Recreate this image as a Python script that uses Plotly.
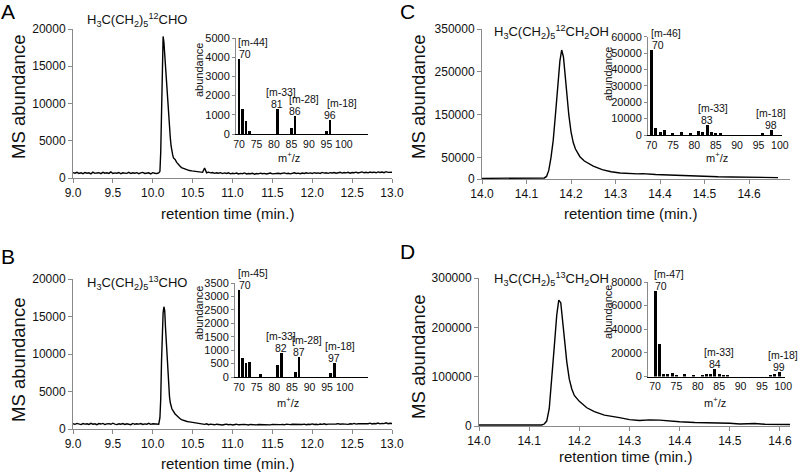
import numpy as np
import plotly.graph_objects as go

W, H = 800, 472
FONT = "Liberation Sans, Arial, Helvetica, sans-serif"

# ---------------- Panel A : H3C(CH2)5 12CHO chromatogram ----------------
A_base1 = [720, 640, 760, 610, 690, 580, 740, 650, 700, 560, 780,
           620, 680, 710, 590, 760, 640, 700, 620, 810, 600, 690,
           650, 740, 570, 700, 660, 620, 760, 600, 700, 640, 720,
           580, 690, 750, 610, 660, 700, 560, 720, 640, 600, 680]
A_peak_t = [10.09, 10.10, 10.11, 10.12, 10.13, 10.14, 10.15, 10.16, 10.17, 10.18,
            10.19, 10.20, 10.21, 10.22, 10.23, 10.24, 10.25, 10.26, 10.28, 10.30,
            10.32, 10.34, 10.36, 10.38, 10.40, 10.43, 10.46, 10.49, 10.52, 10.55, 10.58]
A_peak_v = [900, 3500, 9000, 15500, 19000, 18200, 16500, 14800, 13000, 11200,
            9500, 8200, 6800, 5400, 4300, 3500, 3100, 2700, 2500, 2100,
            1800, 1600, 1400, 1300, 1200, 1100, 1000, 950, 900, 850, 800]
A_base2 = [820, 760, 1350, 700, 780, 690, 740, 620, 700, 650,
           720, 590, 680, 610, 700, 560, 640, 590, 660, 540,
           620, 580, 680, 550, 610, 570, 640, 520, 600, 560,
           650, 580, 620, 540, 600, 660, 560, 620, 580, 640,
           570, 610, 680, 590, 640, 560, 620, 700, 600, 650,
           580, 660, 610, 700, 620, 680, 600, 720, 640, 690,
           610, 750, 660, 700, 630, 720, 680, 740, 650, 710,
           770, 660, 730, 690, 760, 650, 740, 700, 780, 680,
           750, 820, 700, 760, 690, 800, 730, 780, 700, 820,
           750, 800, 720, 850, 760, 810, 780]

# ---------------- Panel B : H3C(CH2)5 13CHO chromatogram ----------------
B_base1 = [700, 620, 740, 680, 590, 720, 650, 700, 610, 760, 640,
           690, 580, 720, 660, 740, 600, 680, 710, 630, 770, 650,
           590, 700, 640, 720, 610, 690, 660, 580, 740, 630, 700,
           650, 720, 600, 680, 640, 760, 620, 690, 650, 710, 640]
B_peak_t = [10.09, 10.10, 10.11, 10.12, 10.13, 10.14, 10.15, 10.16, 10.17, 10.18,
            10.19, 10.20, 10.21, 10.22, 10.23, 10.24, 10.25, 10.26, 10.28, 10.30,
            10.32, 10.34, 10.36, 10.38, 10.40, 10.43, 10.46, 10.49, 10.52, 10.55, 10.58]
B_peak_v = [1500, 4000, 9000, 13000, 15500, 16300, 15800, 13500, 11500, 9800,
            8300, 6000, 4300, 3500, 3000, 2700, 2500, 2300, 2000, 1800,
            1550, 1400, 1250, 1150, 1100, 1000, 950, 900, 800, 760, 720]
B_base2 = [700, 640, 620, 690, 580, 650, 600, 560, 640, 590,
           620, 540, 600, 650, 570, 610, 530, 590, 640, 560,
           600, 550, 620, 580, 540, 610, 570, 630, 550, 600,
           580, 640, 560, 610, 590, 550, 620, 600, 570, 640,
           590, 620, 560, 650, 600, 580, 630, 610, 660, 580,
           620, 600, 650, 570, 640, 610, 680, 600, 630, 590,
           660, 620, 700, 600, 650, 630, 690, 610, 660, 720,
           640, 680, 650, 710, 620, 690, 660, 740, 650, 700,
           680, 760, 660, 720, 700, 780, 670, 740, 700, 800,
           690, 750, 720, 820, 700, 760, 730]

# ---------------- Panel C : H3C(CH2)5 12CH2OH chromatogram ----------------
C_t = [14.00, 14.05, 14.10, 14.13, 14.14, 14.145, 14.15, 14.155, 14.16, 14.165,
       14.17, 14.175, 14.179, 14.183, 14.187, 14.19, 14.195, 14.20, 14.205, 14.21,
       14.215, 14.22, 14.23, 14.24, 14.25, 14.27, 14.29, 14.31, 14.33, 14.35,
       14.36, 14.37, 14.39, 14.42, 14.45, 14.48, 14.50, 14.53, 14.56, 14.59,
       14.60, 14.61, 14.64, 14.665]
C_v = [1500, 1500, 1500, 1800, 2500, 6000, 20000, 50000, 90000, 150000,
       215000, 275000, 301000, 285000, 240000, 200000, 150000, 110000, 85000, 70000,
       60000, 52000, 42000, 35000, 30000, 22000, 17000, 14000, 12500, 12000,
       12500, 11500, 10500, 9500, 8000, 7000, 5500, 5200, 4800, 4500,
       3000, 4000, 3800, 3200]

# ---------------- Panel D : H3C(CH2)5 13CH2OH chromatogram ----------------
D_t = [14.00, 14.05, 14.09, 14.10, 14.105, 14.125, 14.13, 14.135, 14.14, 14.145,
       14.15, 14.155, 14.159, 14.163, 14.167, 14.171, 14.175, 14.18, 14.185, 14.19,
       14.20, 14.215, 14.23, 14.25, 14.28, 14.30, 14.32, 14.34, 14.36, 14.38,
       14.40, 14.43, 14.46, 14.48, 14.50, 14.52, 14.55, 14.57, 14.60, 14.62]
D_v = [2000, 2000, 2000, 3500, 2000, 2000, 4000, 10000, 35000, 90000,
       160000, 225000, 255000, 250000, 215000, 170000, 130000, 95000, 75000, 62000,
       50000, 37000, 29000, 22000, 17000, 13000, 11000, 12500, 12000, 10000,
       8500, 7000, 6500, 5000, 5500, 4000, 5000, 3500, 3800, 3000]

# ---------------- Inset mass spectra ----------------
A_mz = [70, 71, 72, 73, 81, 85, 86, 95, 96]
A_ab = [3900, 1300, 680, 150, 1300, 330, 930, 160, 730]
A_lab = [(70, "[m-44]"), (81, "[m-33]"), (86, "[m-28]"), (96, "[m-18]")]

B_mz = [70, 71, 72, 73, 76, 81, 82, 86, 87, 96, 97]
B_ab = [3250, 700, 530, 560, 100, 450, 880, 180, 760, 160, 540]
B_lab = [(70, "[m-45]"), (82, "[m-33]"), (87, "[m-28]"), (97, "[m-18]")]

C_mz = [70, 71, 72, 73, 75, 77, 79, 81, 82, 83, 84, 85, 86, 96, 98]
C_ab = [52000, 4500, 2000, 3000, 1500, 2000, 1500, 2500, 2000, 6000, 2000, 1500, 1500, 1500, 3000]
C_lab = [(70, "[m-46]"), (83, "[m-33]"), (98, "[m-18]")]

D_mz = [70, 71, 72, 73, 74, 75, 77, 79, 81, 82, 83, 84, 85, 86, 87, 97, 98, 99]
D_ab = [72500, 27500, 2500, 1700, 2700, 1200, 1700, 1000, 1000, 1700, 2500, 6500, 1700, 1500, 1500, 1500, 2200, 3500]
D_lab = [(70, "[m-47]"), (84, "[m-33]"), (99, "[m-18]")]

main_ticks_AB = [9.0, 9.5, 10.0, 10.5, 11.0, 11.5, 12.0, 12.5, 13.0]
main_ticks_CD = [14.0, 14.1, 14.2, 14.3, 14.4, 14.5, 14.6]
ms_ticks = [70, 75, 80, 85, 90, 95, 100]


def fx(px):
    return px / W


def fy(py):
    return 1 - py / H


fig = go.Figure()

A_t = list(np.linspace(9.0, 10.075, len(A_base1))) + A_peak_t + list(np.linspace(10.6, 13.0, len(A_base2)))
A_v = A_base1 + A_peak_v + A_base2
B_t = list(np.linspace(9.0, 10.075, len(B_base1))) + B_peak_t + list(np.linspace(10.6, 13.0, len(B_base2)))
B_v = B_base1 + B_peak_v + B_base2

line = dict(color="black", width=1.4)
fig.add_trace(go.Scatter(x=A_t, y=A_v, mode="lines", line=line, xaxis="x", yaxis="y", showlegend=False))
fig.add_trace(go.Scatter(x=B_t, y=B_v, mode="lines", line=line, xaxis="x3", yaxis="y3", showlegend=False))
fig.add_trace(go.Scatter(x=C_t, y=C_v, mode="lines", line=line, xaxis="x5", yaxis="y5", showlegend=False))
fig.add_trace(go.Scatter(x=D_t, y=D_v, mode="lines", line=line, xaxis="x7", yaxis="y7", showlegend=False))

for mz, ab, ax, bw in [(A_mz, A_ab, "2", 0.8), (B_mz, B_ab, "4", 0.8), (C_mz, C_ab, "6", 0.7), (D_mz, D_ab, "8", 0.7)]:
    fig.add_trace(go.Bar(x=mz, y=ab, width=bw, marker=dict(color="black", line=dict(width=0)),
                         xaxis="x" + ax, yaxis="y" + ax, showlegend=False))

GRAY = "#8a8a8a"
TXT = "#111111"


def main_x(domain, rng, anchor, ticks):
    return dict(domain=domain, range=rng, anchor=anchor, showline=True, linecolor=GRAY, linewidth=1,
                ticks="outside", ticklen=4, tickcolor=GRAY, showgrid=False, zeroline=False,
                automargin=False, type="linear",
                tickvals=ticks, tickformat=".1f", tickfont=dict(size=12, color=TXT, family=FONT))


def main_y(domain, rng, anchor, ticks):
    return dict(domain=domain, range=rng, anchor=anchor, showline=True, linecolor=GRAY, linewidth=1,
                ticks="outside", ticklen=4, tickcolor=GRAY, showgrid=False, zeroline=False,
                automargin=False, type="linear",
                tickvals=ticks, tickformat="d", tickfont=dict(size=12, color=TXT, family=FONT))


def ins_x(domain, rng, anchor):
    return dict(domain=domain, range=rng, anchor=anchor, showline=True, linecolor="black", linewidth=1.2,
                ticks="", showgrid=False, zeroline=False, tickvals=ms_ticks, automargin=False,
                type="linear", tickfont=dict(size=10.5, color=TXT, family=FONT))


def ins_y(domain, rng, anchor, dtick):
    return dict(domain=domain, range=rng, anchor=anchor, showline=True, linecolor=GRAY, linewidth=1,
                ticks="outside", ticklen=3, tickcolor=GRAY, showgrid=False, zeroline=False,
                automargin=False, type="linear",
                dtick=dtick, tick0=0, tickformat="d", tickfont=dict(size=11, color=TXT, family=FONT))


layout = dict(
    width=W, height=H, margin=dict(l=0, r=0, t=0, b=0, autoexpand=False),
    paper_bgcolor="white", plot_bgcolor="rgba(0,0,0,0)",
    font=dict(family=FONT, color=TXT), bargap=0,
    xaxis=main_x([fx(73), fx(392)], [9.0, 13.0], "y", main_ticks_AB),
    yaxis=main_y([fy(178), fy(29)], [0, 20000], "x", [0, 5000, 10000, 15000, 20000]),
    xaxis3=main_x([fx(73), fx(392)], [9.0, 13.0], "y3", main_ticks_AB),
    yaxis3=main_y([fy(429), fy(279)], [0, 20000], "x3", [0, 5000, 10000, 15000, 20000]),
    xaxis5=main_x([fx(482), fx(790)], [14.0, 14.692], "y5", main_ticks_CD),
    yaxis5=main_y([fy(179), fy(29)], [0, 350000], "x5", [0, 50000, 150000, 250000, 350000]),
    xaxis7=main_x([fx(479), fx(790)], [14.0, 14.62], "y7", main_ticks_CD),
    yaxis7=main_y([fy(426), fy(278)], [0, 300000], "x7", [0, 100000, 200000, 300000]),
    xaxis2=ins_x([fx(236), fx(368)], [69.14, 106.9], "y2"),
    yaxis2=ins_y([fy(134), fy(38)], [0, 5000], "x2", 1000),
    xaxis4=ins_x([fx(235), fx(368)], [68.86, 106.6], "y4"),
    yaxis4=ins_y([fy(377), fy(283)], [0, 3500], "x4", 500),
    xaxis6=ins_x([fx(648), fx(782)], [69.16, 100.5], "y6"),
    yaxis6=ins_y([fy(135), fy(36.7)], [0, 60000], "x6", 10000),
    xaxis8=ins_x([fx(648), fx(785)], [68.36, 100.4], "y8"),
    yaxis8=ins_y([fy(376.5), fy(282)], [0, 80000], "x8", 20000),
)
fig.update_layout(**layout)

anns = []


def pa(px, py, text, size, **kw):
    d = dict(x=fx(px), y=fy(py), xref="paper", yref="paper", text=text, showarrow=False,
             xanchor="center", yanchor="middle",
             font=dict(size=size, color=TXT, family=FONT))
    d.update(kw)
    anns.append(d)


# panel letters
for (x, y, t) in [(8, 11, "A"), (8, 256, "B"), (407, 11, "C"), (407, 251, "D")]:
    pa(x, y, t, 21, font=dict(size=21, color="black", family=FONT))

# axis titles
for (x, y) in [(18, 97), (18, 360), (418, 97), (418, 357)]:
    pa(x, y, "MS abundance", 18.5, textangle=-90)
for (x, y) in [(227, 213), (227, 463), (630, 213), (625, 456)]:
    pa(x, y, "retention time (min.)", 15)
for (x, y) in [(199, 70), (199, 313), (608, 74), (608, 312)]:
    pa(x, y, "abundance", 11, textangle=-90)
for (x, y) in [(289, 157), (288, 402), (717, 157), (715, 402)]:
    pa(x, y, "m<sup>+</sup>/z", 11)

# compound titles
pa(85, 20, "H<sub>3</sub>C(CH<sub>2</sub>)<sub>5</sub><sup>12</sup>CHO", 13, xanchor="left")
pa(85, 283, "H<sub>3</sub>C(CH<sub>2</sub>)<sub>5</sub><sup>13</sup>CHO", 13, xanchor="left")
pa(492, 32, "H<sub>3</sub>C(CH<sub>2</sub>)<sub>5</sub><sup>12</sup>CH<sub>2</sub>OH", 13, xanchor="left")
pa(492, 279, "H<sub>3</sub>C(CH<sub>2</sub>)<sub>5</sub><sup>13</sup>CH<sub>2</sub>OH", 13, xanchor="left")

# peak labels on insets
bracket_shift = {"2": [0, 4, 9, 12], "4": [0, 0, 8, 6], "6": [0, 6, 0], "8": [0, 4, 4]}
for mz, ab, labs, ax in [(A_mz, A_ab, A_lab, "2"), (B_mz, B_ab, B_lab, "4"),
                         (C_mz, C_ab, C_lab, "6"), (D_mz, D_ab, D_lab, "8")]:
    for i, (m, br) in enumerate(labs):
        v = ab[mz.index(m)]
        left = (i == 0)
        common = dict(x=m, y=v, xref="x" + ax, yref="y" + ax, showarrow=False,
                      yanchor="bottom", xanchor="left" if left else "center",
                      font=dict(size=10.5, color=TXT, family=FONT))
        anns.append(dict(common, text=str(m), yshift=-3, xshift=-2 if left else 0))
        anns.append(dict(common, text=br, yshift=9, xshift=(-3 if left else bracket_shift[ax][i])))

fig.update_layout(annotations=anns)
fig.write_html("out.html", config={"displayModeBar": False, "staticPlot": True},
               post_script="document.body.style.margin='0';document.body.style.overflow='hidden';")
